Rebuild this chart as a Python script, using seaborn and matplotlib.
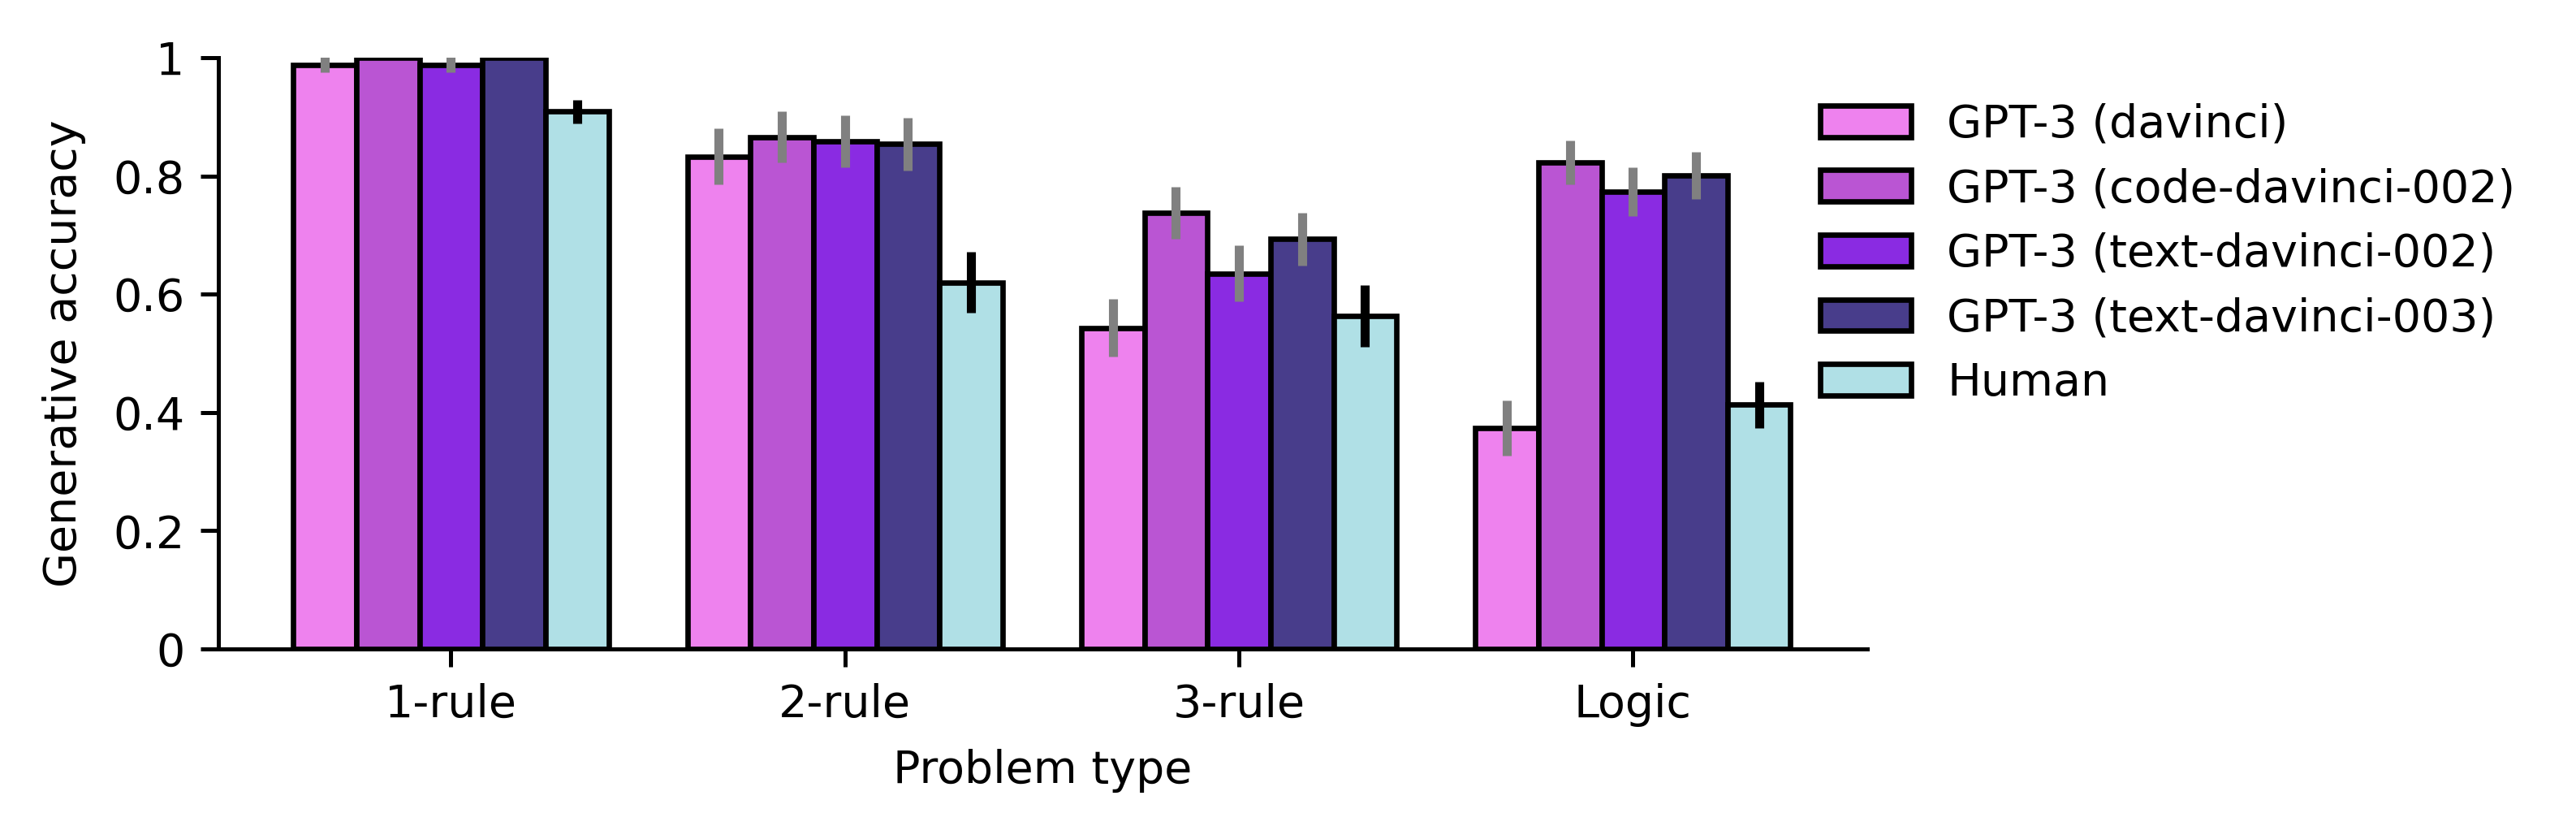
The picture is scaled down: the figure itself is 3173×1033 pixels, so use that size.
import matplotlib
matplotlib.use("Agg")
import matplotlib.pyplot as plt
import seaborn as sns
import pandas as pd

# ---- data ----
problem_types = ["1-rule", "2-rule", "3-rule", "Logic"]
models = ["GPT-3 (davinci)", "GPT-3 (code-davinci-002)", "GPT-3 (text-davinci-002)",
          "GPT-3 (text-davinci-003)", "Human"]
colors = ["violet", "mediumorchid", "blueviolet", "darkslateblue", "powderblue"]

acc_davinci = [0.988, 0.833, 0.543, 0.374]
acc_code002 = [1.0, 0.866, 0.737, 0.823]
acc_text002 = [0.988, 0.858, 0.635, 0.773]
acc_text003 = [1.0, 0.854, 0.693, 0.801]
acc_human = [0.909, 0.620, 0.563, 0.413]

err_davinci = [0.013, 0.047, 0.049, 0.047]
err_code002 = [0.0, 0.043, 0.044, 0.037]
err_text002 = [0.013, 0.044, 0.047, 0.041]
err_text003 = [0.0, 0.045, 0.045, 0.040]
err_human = [0.020, 0.052, 0.052, 0.039]

ytick_vals = [0, 0.2, 0.4, 0.6, 0.8, 1]
ytick_labels = ["0", "0.2", "0.4", "0.6", "0.8", "1"]

all_acc = [acc_davinci, acc_code002, acc_text002, acc_text003, acc_human]
all_err = [err_davinci, err_code002, err_text002, err_text003, err_human]
err_colors = ["gray", "gray", "gray", "gray", "black"]

rows = []
for m, accs in zip(models, all_acc):
    for p, a in zip(problem_types, accs):
        rows.append({"Problem type": p, "Model": m, "acc": a})
df = pd.DataFrame(rows)

# ---- figure ----
plt.rcParams["font.family"] = ["DejaVu Sans"]
plt.rcParams["font.size"] = 10

fig = plt.figure(figsize=(3173 / 400, 1033 / 400), dpi=400)
ax = fig.add_axes([0.0848, 0.2265, 0.7249 - 0.0848, 0.9313 - 0.2265])

sns.barplot(data=df, x="Problem type", y="acc", hue="Model",
            order=problem_types, hue_order=models, palette=colors,
            saturation=1, edgecolor="black", linewidth=1.2,
            errorbar=None, width=0.8, gap=0, ax=ax)

for cont, errs, ec in zip(ax.containers, all_err, err_colors):
    xs = [p.get_x() + p.get_width() / 2 for p in cont.patches]
    ys = [p.get_height() for p in cont.patches]
    ax.errorbar(xs, ys, yerr=errs, fmt="none", ecolor=ec, elinewidth=2,
                capsize=0, zorder=5)

ax.set_ylim(0, 1)
ax.set_xlim(-0.59, 3.595)
ax.set_yticks(ytick_vals)
ax.set_yticklabels(ytick_labels)
ax.set_xlabel("Problem type", labelpad=5)
ax.set_ylabel("Generative accuracy", labelpad=6)
ax.tick_params(axis="both", length=4, width=0.9)
for s in ["left", "bottom"]:
    ax.spines[s].set_linewidth(0.9)
sns.despine(ax=ax)

handles, labels = ax.get_legend_handles_labels()
ax.legend(handles, labels, loc="upper left", bbox_to_anchor=(0.947, 0.992),
          frameon=False, labelspacing=0.46)

fig.savefig("out.png", dpi=400)
